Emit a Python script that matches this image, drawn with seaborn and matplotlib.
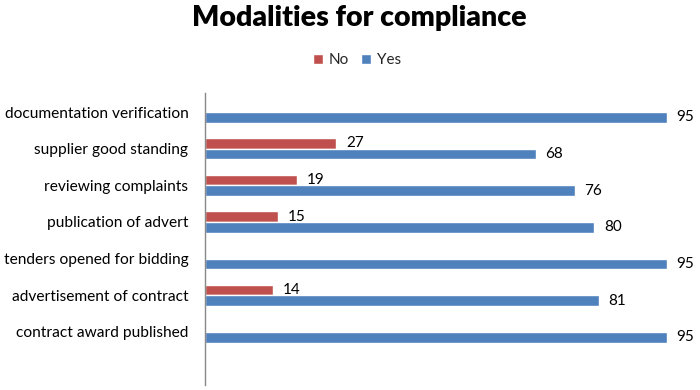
import matplotlib
matplotlib.use("Agg")
import matplotlib.pyplot as plt
import seaborn as sns
import pandas as pd
from matplotlib.patches import Patch

categories = ["documentation verification", "supplier good standing", "reviewing complaints",
              "publication of advert", "tenders opened for bidding", "advertisement of contract",
              "contract award published"]
no_values = [0, 27, 19, 15, 0, 14, 0]
yes_values = [95, 68, 76, 80, 95, 81, 95]
series = ["No", "Yes"]
colors = {"No": "#C0504D", "Yes": "#4F81BD"}

df = pd.DataFrame({
    "category": categories * 2,
    "value": no_values + yes_values,
    "series": ["No"] * len(categories) + ["Yes"] * len(categories),
})

sns.set_style("white")
plt.rcParams["font.family"] = ["Lato", "DejaVu Sans"]

fig = plt.figure(figsize=(7, 3.9), dpi=100)
ax = fig.add_axes([205 / 700, 1 - 385 / 390, 1 - 205 / 700, (385 - 93) / 390])

sns.barplot(data=df, x="value", y="category", hue="series", hue_order=series,
            order=categories, palette=colors, orient="h", width=0.58, gap=0,
            ax=ax, legend=False, saturation=1)

for cont, s in zip(ax.containers, series):
    vals = no_values if s == "No" else yes_values
    ax.bar_label(cont, labels=[str(v) if v else "" for v in vals], padding=7,
                 fontsize=11, color="#000000", clip_on=False)

ax.set_xlim(0, 495 / 4.863)
ax.set_ylim(7.45, -0.52)
ax.set_xlabel("")
ax.set_ylabel("")
ax.set_xticks([])
ax.tick_params(axis="y", length=0, pad=12, labelsize=11.2)
for lbl in ax.get_yticklabels():
    lbl.set_color("#000000")
for side in ["top", "right", "bottom"]:
    ax.spines[side].set_visible(False)
ax.spines["left"].set_color("#888888")
ax.spines["left"].set_linewidth(1)

fig.text(0.513, 1 - 18 / 390, "Modalities for compliance", ha="center", va="center",
         fontsize=20.5, fontweight="heavy", color="#000000")

handles = [Patch(facecolor=colors[s], label=s) for s in series]
fig.legend(handles=handles, loc="center", bbox_to_anchor=(357 / 700, 1 - 60 / 390),
           ncol=2, frameon=False, fontsize=11, handlelength=0.65, handleheight=0.65,
           handletextpad=0.4, columnspacing=0.8)

fig.savefig("out.png", dpi=100)
